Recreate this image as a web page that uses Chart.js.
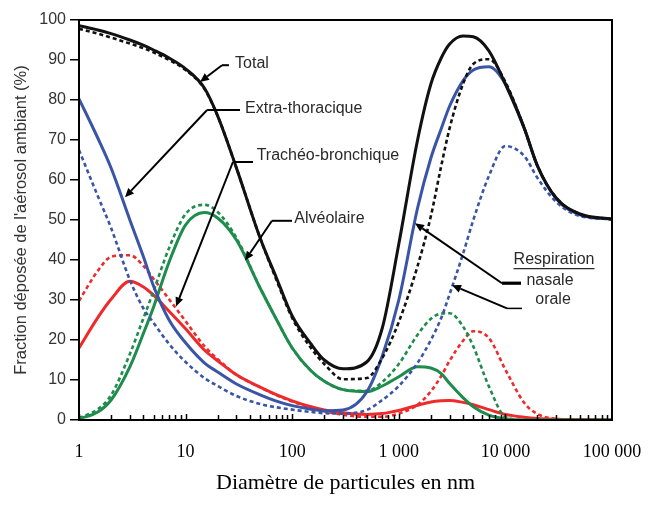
<!DOCTYPE html>
<html><head><meta charset="utf-8">
<script src="https://cdn.jsdelivr.net/npm/chart.js@4.4.1/dist/chart.umd.min.js"></script>
<style>html,body{margin:0;padding:0;background:#fff;}canvas{display:block;}</style>
</head><body>
<canvas id="c" width="649" height="506"></canvas>
<script>
// ---- data (particle diameter in nm, deposited fraction in %) ----
const diameters = [1, 1.5, 2, 3, 4, 5, 7, 10, 15, 20, 30, 50, 70, 100, 150, 200, 300, 500, 700, 1000, 1500, 2000, 2500, 3000, 4000, 5000, 7000, 10000, 15000, 20000, 30000, 50000, 100000];

const totalNasal = [98.6, 97.5, 96.6, 95, 93.7, 92.5, 90.5, 87.8, 83, 76, 63, 45.5, 36, 26, 19, 15, 12.8, 14.5, 23, 44, 70, 84, 90.5, 94, 96, 95.8, 92.3, 84, 73, 63.5, 55.5, 51.5, 50.2];
const totalOral = [97.8, 96.6, 95.6, 94.1, 93, 91.9, 90, 87.5, 82.8, 76, 63, 45.5, 35.5, 25.5, 18, 14, 10.2, 10.5, 15.5, 24.5, 38.5, 51, 63.5, 73, 84, 89, 90.2, 84.5, 73, 63.5, 55.5, 51.5, 50.2];
const extraThoracicNasal = [80.3, 70.5, 63, 50, 41, 33.5, 25, 19.3, 14.3, 12, 9, 6.3, 4.8, 3.6, 2.7, 2.3, 2.5, 7, 16, 30, 53, 65.5, 72.8, 78.5, 84.8, 87.5, 88.3, 84, 73, 63.5, 55.3, 51.3, 50.2];
const extraThoracicOral = [67.5, 56, 48, 35, 28, 24.3, 19, 14.5, 10.5, 8.5, 6, 4, 3.2, 2.6, 2, 1.7, 1.6, 2.5, 5, 8.5, 14.3, 20, 25.5, 31.5, 41.5, 50, 61, 68.5, 66, 60.5, 54.5, 51, 50.2];
const tracheoBronchialNasal = [0.3, 2, 5, 13.3, 21.5, 28.2, 39.5, 48.8, 51.9, 50.5, 45, 33, 25.5, 18, 12.3, 9.7, 7.6, 7.1, 8.5, 10.8, 13.3, 13.0, 11.6, 9.1, 5.6, 3.3, 1.2, 0.3, 0, 0, 0, 0, 0];
const tracheoBronchialOral = [0.5, 2.7, 6.2, 16.5, 25.3, 32.2, 43, 51.5, 53.8, 52, 45.5, 33, 25.5, 18, 12.3, 9.7, 7.6, 7.3, 9.5, 14, 21.3, 25.3, 26.6, 26.7, 23.4, 18.4, 8.4, 0.8, 0, 0, 0, 0, 0];
const alveolarNasal = [18, 25.6, 30.2, 34.7, 33.3, 31.2, 27.2, 22.8, 17.5, 14.8, 11.3, 8.2, 6.4, 4.8, 3.3, 2.5, 1.8, 1.4, 1.6, 2.4, 3.7, 4.5, 4.8, 4.9, 4.4, 3.8, 2.6, 1.4, 0.7, 0.4, 0.2, 0.1, 0];
const alveolarOral = [29.8, 37.3, 40.8, 41.2, 38.6, 35.3, 30.2, 24.7, 18.5, 15.2, 11.3, 8.2, 6.3, 4.6, 3.1, 2.2, 1.3, 0.8, 0.8, 1.6, 3.8, 7.2, 11, 14.8, 19.8, 22.2, 20.5, 12.6, 4.3, 1.5, 0.3, 0.1, 0];

const xTickValues = [1, 10, 100, 1000, 10000, 100000];
const xTickLabels = ['1', '10', '100', '1 000', '10 000', '100 000'];
const xTitle = 'Diamètre de particules en nm';
const yTitle = "Fraction déposée de l'aérosol ambiant (%)";

// annotation texts, anchored in data coordinates [diameter, %]
const labelTexts = ['Total', 'Extra-thoracique', 'Trachéo-bronchique', 'Alvéolaire'];
const labelAnchors = [[29.1, 89.2], [36.1, 77.9], [46.4, 66.0], [104.6, 50.4]];
// leader polylines for each label: last point is the arrow tip
const labelLeaders = [
  [[25.5, 88.7], [21.95, 88.7], [13.65, 84.5]],
  [[32.4, 77.5], [15.9, 77.5], [2.70, 55.7]],
  [[42.9, 64.5], [27.8, 64.5], [8.13, 28.4]],
  [[99.6, 49.8], [64.6, 49.8], [36.1, 39.9]]
];
const legendTitle = 'Respiration';
const legendItems = ['nasale', 'orale'];
const legendAnchors = [[28600, 40.1], [26200, 34.9], [27980, 30.2]];
const legendLeaders = [
  [[14000, 34.2], [9290, 34.2], [1419, 49.2]],
  [[14300, 27.9], [10350, 27.9], [3155, 33.7]]
];

const BLACK = '#111111', BLUE = '#3A55A6', GREEN = '#1E8C4C', RED = '#EE2A2A';

function series(vals) { return vals.map((v, i) => ({x: diameters[i], y: v})); }
function ds(label, vals, color, dashed) {
  return {
    label, data: series(vals), borderColor: color, backgroundColor: color,
    borderWidth: dashed ? 2.6 : 3, borderDash: dashed ? [4, 3] : [],
    pointRadius: 0, fill: false, cubicInterpolationMode: 'monotone'
  };
}

const decor = {
  id: 'decor',
  afterDraw(chart) {
    const ctx = chart.ctx, xs = chart.scales.x, ys = chart.scales.y, a = chart.chartArea;
    const P = (p) => [xs.getPixelForValue(p[0]), ys.getPixelForValue(p[1])];
    ctx.save();
    // frame
    ctx.strokeStyle = '#000'; ctx.lineWidth = 2;
    ctx.strokeRect(a.left, a.top, a.right - a.left, a.bottom - a.top);
    // inner minor ticks on x axis
    ctx.lineWidth = 1.5;
    ctx.beginPath();
    for (let e = 0; e < 5; e++) {
      for (let m = 1; m <= 9; m++) {
        const v = m * Math.pow(10, e);
        const px = Math.round(xs.getPixelForValue(v)) + 0.5;
        const len = m === 1 ? 6 : 5;
        ctx.moveTo(px, a.bottom); ctx.lineTo(px, a.bottom - len);
      }
    }
    ctx.stroke();
    // leaders with arrows
    function leader(pts, lw) {
      const q = pts.map(P);
      ctx.strokeStyle = '#000'; ctx.fillStyle = '#000';
      ctx.lineWidth = lw[0];
      ctx.beginPath(); ctx.moveTo(q[0][0], q[0][1]); ctx.lineTo(q[1][0], q[1][1]); ctx.stroke();
      ctx.lineWidth = lw[1];
      const t = q[q.length - 1], s = q[q.length - 2];
      const ang = Math.atan2(t[1] - s[1], t[0] - s[0]);
      const L = 9, W = 4;
      const bx = t[0] - L * Math.cos(ang), by = t[1] - L * Math.sin(ang);
      ctx.beginPath(); ctx.moveTo(s[0], s[1]); ctx.lineTo(bx, by); ctx.stroke();
      ctx.beginPath();
      ctx.moveTo(t[0], t[1]);
      ctx.lineTo(bx + W * Math.sin(ang), by - W * Math.cos(ang));
      ctx.lineTo(bx - W * Math.sin(ang), by + W * Math.cos(ang));
      ctx.closePath(); ctx.fill();
    }
    labelLeaders.forEach(l => leader(l, [2, 2]));
    leader(legendLeaders[0], [3.2, 2]);
    leader(legendLeaders[1], [1.5, 2]);
    // texts
    ctx.fillStyle = '#2a2a2a';
    ctx.font = '16px "Liberation Sans", Arial, sans-serif';
    ctx.textBaseline = 'middle';
    ctx.textAlign = 'left';
    labelTexts.forEach((t, i) => { const p = P(labelAnchors[i]); ctx.fillText(t, p[0], p[1]); });
    ctx.textAlign = 'center';
    const r = P(legendAnchors[0]);
    ctx.fillText(legendTitle, r[0], r[1]);
    const w = ctx.measureText(legendTitle).width;
    ctx.strokeStyle = '#2a2a2a'; ctx.lineWidth = 1.3;
    ctx.beginPath(); ctx.moveTo(r[0] - w / 2, r[1] + 9); ctx.lineTo(r[0] + w / 2, r[1] + 9); ctx.stroke();
    legendItems.forEach((t, i) => { const p = P(legendAnchors[i + 1]); ctx.fillText(t, p[0], p[1]); });
    ctx.restore();
  }
};

new Chart(document.getElementById('c'), {
  type: 'line',
  data: {
    datasets: [
      ds('Total – nasale', totalNasal, BLACK, false),
      ds('Total – orale', totalOral, BLACK, true),
      ds('Extra-thoracique – nasale', extraThoracicNasal, BLUE, false),
      ds('Extra-thoracique – orale', extraThoracicOral, BLUE, true),
      ds('Trachéo-bronchique – nasale', tracheoBronchialNasal, GREEN, false),
      ds('Trachéo-bronchique – orale', tracheoBronchialOral, GREEN, true),
      ds('Alvéolaire – nasale', alveolarNasal, RED, false),
      ds('Alvéolaire – orale', alveolarOral, RED, true)
    ]
  },
  options: {
    responsive: false, animation: false, devicePixelRatio: 1,
    layout: {padding: {left: 0, top: 20, right: 37, bottom: 0}},
    plugins: {legend: {display: false}, tooltip: {enabled: false}},
    scales: {
      x: {
        type: 'logarithmic', min: 1, max: 100000,
        afterFit: s => { s.height = 86; s.paddingLeft = 0; s.paddingRight = 0; },
        afterBuildTicks: s => { s.ticks = xTickValues.map(v => ({value: v})); },
        grid: {display: false, drawTicks: false},
        border: {display: false},
        ticks: {
          autoSkip: false, maxRotation: 0, padding: 21, color: '#000',
          font: {family: '"Liberation Serif", "Times New Roman", serif', size: 18},
          callback: (v, i) => xTickLabels[i]
        },
        title: {display: true, text: xTitle, color: '#000',
          font: {family: '"Liberation Serif", "Times New Roman", serif', size: 22},
          padding: {top: 0, bottom: 10}}
      },
      y: {
        min: 0, max: 100,
        afterFit: s => { s.width = 79; s.paddingTop = 0; s.paddingBottom = 0; },
        grid: {drawOnChartArea: false, drawTicks: true, tickLength: 9, color: '#000', lineWidth: 1.5},
        border: {display: false},
        ticks: {stepSize: 10, padding: 4, color: '#333',
          font: {family: '"Liberation Sans", Arial, sans-serif', size: 16}},
        title: {display: true, text: yTitle, color: '#333',
          font: {family: '"Liberation Sans", Arial, sans-serif', size: 16.5},
          padding: {top: 12, bottom: 0}}
      }
    }
  },
  plugins: [decor]
});
</script>
</body></html>
